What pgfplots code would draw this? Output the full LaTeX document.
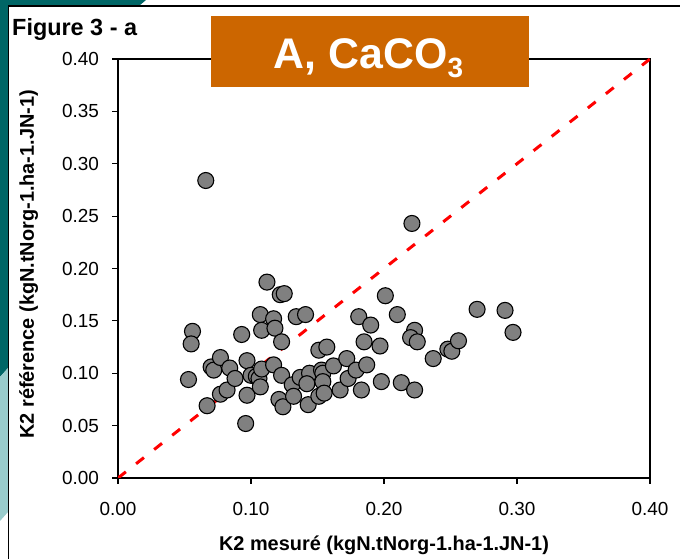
\documentclass[border=0pt]{standalone}
\usepackage{fontspec}
\setmainfont{Liberation Sans}
\usepackage{pgfplots}
\pgfplotsset{compat=1.18}
\definecolor{tealdark}{HTML}{006666}
\definecolor{teallight}{HTML}{99CCCC}
\definecolor{boxorange}{HTML}{CC6600}
\definecolor{markgray}{HTML}{808080}
\begin{document}
\begin{tikzpicture}[x=1bp,y=1bp]
\useasboundingbox (0,0) rectangle (680,559);
\fill[white] (0,0) rectangle (680,559);
\fill[tealdark] (0,553) -- (0,559) -- (146,559) .. controls (143,556) .. (139,553) -- cycle;
\fill[tealdark] (0,559) -- (8,559) -- (8,191) -- (0,182) -- cycle;
\fill[teallight] (0,182) -- (8,191) -- (8,47) .. controls (4,42) .. (0,38) -- cycle;
\draw[line width=1.5] (8.5,0) -- (8.5,553) -- (680,553);
\node[anchor=base west, inner sep=0, font=\fontsize{23.5}{27}\selectfont\bfseries] at (12,523.5) {Figure 3 - a};
\begin{axis}[
  at={(118bp,81bp)}, anchor=origin,
  width=532bp, height=419bp, scale only axis,
  xmin=0, xmax=0.4, ymin=0, ymax=0.4,
  xtick={0,0.1,0.2,0.3,0.4},
  ytick={0,0.05,0.1,0.15,0.2,0.25,0.3,0.35,0.4},
  tick align=outside, major tick length=6bp,
  xtick pos=bottom, ytick pos=left,
  axis line style={line width=1.2bp, black},
  tick style={line width=1.2bp, black},
  /pgf/number format/.cd, fixed, fixed zerofill, precision=2, assume math mode=true,
  /pgfplots/.cd,
  ticklabel style={font=\fontsize{19}{22}\selectfont},
  yticklabel style={xshift=-9.5bp},
  xticklabel style={yshift=-15bp},
  label style={font=\fontsize{20}{24}\selectfont\bfseries},
  xlabel={K2 mesuré (kgN.tNorg-1.ha-1.JN-1)},
  ylabel={K2 référence (kgN.tNorg-1.ha-1.JN-1)},
  xlabel style={at={(axis description cs:0.5,-0.174)}, anchor=base},
  ylabel style={at={(axis description cs:-0.158,0.51)}, anchor=base},
]
\addplot[red, line width=3bp, dash pattern=on 10bp off 13bp] coordinates {(0,0) (0.4,0.4)};
\addplot[only marks, mark=*, mark size=8bp, mark options={fill=markgray, draw=black, line width=1.1bp}] table {
x y
0.053 0.094
0.056 0.140
0.055 0.128
0.067 0.069
0.066 0.284
0.070 0.106
0.072 0.103
0.077 0.115
0.077 0.080
0.082 0.084
0.084 0.105
0.088 0.095
0.093 0.137
0.096 0.052
0.097 0.079
0.097 0.112
0.100 0.098
0.104 0.097
0.106 0.095
0.107 0.087
0.107 0.156
0.108 0.141
0.108 0.104
0.112 0.187
0.117 0.152
0.118 0.143
0.117 0.108
0.122 0.175
0.125 0.176
0.123 0.130
0.123 0.098
0.121 0.075
0.124 0.068
0.131 0.089
0.132 0.078
0.134 0.154
0.141 0.156
0.137 0.096
0.144 0.100
0.142 0.090
0.143 0.070
0.151 0.122
0.157 0.125
0.153 0.103
0.154 0.100
0.154 0.092
0.151 0.078
0.155 0.081
0.162 0.107
0.167 0.084
0.172 0.114
0.173 0.095
0.179 0.103
0.183 0.084
0.181 0.154
0.190 0.146
0.185 0.130
0.187 0.108
0.197 0.126
0.198 0.092
0.201 0.174
0.210 0.156
0.213 0.091
0.221 0.243
0.223 0.141
0.220 0.134
0.225 0.130
0.223 0.084
0.237 0.114
0.248 0.123
0.251 0.121
0.256 0.131
0.270 0.161
0.291 0.160
0.297 0.139
};
\end{axis}
\fill[boxorange] (211,472) rectangle (529,543);
\node[anchor=base, inner sep=0, text=white, font=\fontsize{43}{48}\selectfont\bfseries] at (368.5,490) {A, CaCO\raisebox{-9bp}{\fontsize{28}{30}\selectfont 3}};
\end{tikzpicture}
\end{document}
